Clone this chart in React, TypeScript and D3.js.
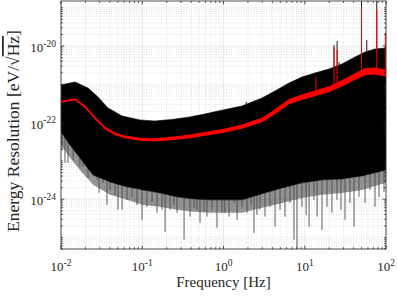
import React from "react";
import * as d3 from "d3";

const W = 397;
const H = 297;
const PL = 61, PR = 386, PT = 1, PB = 249;

const xDomain = [0.01, 100];
const yDomain = [5e-26, 1.5e-19];
const xTickValues = [0.01, 0.1, 1, 10, 100];
const xTickExps = ["-2", "-1", "0", "1", "2"];
const yTickValues = [1e-24, 1e-22, 1e-20];
const yTickExps = ["-24", "-22", "-20"];

// red (averaged) spectrum
const redFreq = [0.01, 0.01186, 0.01486, 0.01972, 0.0262, 0.0348, 0.0462, 0.0614, 0.0938, 0.1435, 0.232, 0.387, 0.592, 0.986, 1.69, 2.98, 4.31, 6.4, 9.25, 13.37, 19.9, 28.7, 41.5, 55.2, 73.3, 100];
const redValue = [3.46e-22, 3.74e-22, 4.06e-22, 2.61e-22, 1.32e-22, 7.26e-23, 5.06e-23, 4.23e-23, 3.68e-23, 3.53e-23, 3.86e-23, 4.36e-23, 5.06e-23, 6.05e-23, 7.85e-23, 1.17e-22, 1.93e-22, 3.52e-22, 4.59e-22, 5.83e-22, 7.41e-22, 1.06e-21, 1.58e-21, 2.13e-21, 2.23e-21, 1.94e-21];
const redSpread = [0.022, 0.022, 0.025, 0.028, 0.03, 0.033, 0.036, 0.038, 0.04, 0.043, 0.046, 0.048, 0.05, 0.053, 0.056, 0.06, 0.064, 0.068, 0.072, 0.076, 0.08, 0.084, 0.088, 0.09, 0.092, 0.093];

// black raw spectrum: upper envelope, lower edge of the dense band, and fringe of dips
const upperFreq = [0.01, 0.01486, 0.0215, 0.0285, 0.0379, 0.0563, 0.0938, 0.1435, 0.232, 0.387, 0.592, 0.986, 1.69, 2.98, 4.31, 6.4, 9.25, 13.37, 19.9, 28.7, 41.5, 55.2, 73.3, 100];
const upperValue = [9.6e-22, 1.15e-21, 8.0e-22, 4.67e-22, 2.41e-22, 1.49e-22, 1.17e-22, 1.1e-22, 1.21e-22, 1.41e-22, 1.68e-22, 2.14e-22, 2.72e-22, 4.4e-22, 6.7e-22, 1.08e-21, 1.55e-21, 1.98e-21, 2.51e-21, 3.39e-21, 5.16e-21, 6.97e-21, 8.35e-21, 8.87e-21];
const lowerFreq = [0.01, 0.0129, 0.0171, 0.0248, 0.0401, 0.0649, 0.102, 0.165, 0.268, 0.422, 0.683, 0.986, 1.69, 2.98, 5.25, 9.25, 16.3, 28.7, 50.7, 100];
const lowerValue = [5.7e-23, 2.6e-23, 1.2e-23, 4.3e-24, 2.83e-24, 2.1e-24, 1.75e-24, 1.46e-24, 1.15e-24, 1.02e-24, 9.6e-25, 9.6e-25, 9.6e-25, 1.38e-24, 1.97e-24, 2.67e-24, 3.2e-24, 3.39e-24, 4.06e-24, 5.8e-24];
const fringeValue = [2.61e-23, 1.2e-23, 5.82e-24, 2.37e-24, 1.3e-24, 9.6e-25, 7.1e-25, 6.3e-25, 5.3e-25, 4.67e-25, 4.4e-25, 4.4e-25, 4.4e-25, 5.94e-25, 8.0e-25, 1.08e-24, 1.3e-24, 1.46e-24, 1.75e-24, 2.67e-24];

// deep downward dips of the raw spectrum
const dipFreq = [0.0103, 0.0112, 0.0122, 0.0141, 0.0171, 0.0187, 0.0215, 0.0241, 0.0278, 0.0294, 0.0329, 0.0368, 0.0401, 0.0462, 0.0503, 0.0564, 0.0649, 0.0748, 0.0861, 0.0993, 0.114, 0.132, 0.152, 0.175, 0.191, 0.22, 0.246, 0.268, 0.327, 0.387, 0.434, 0.472, 0.514, 0.576, 0.626, 0.722, 0.832, 0.959, 1.04, 1.17, 1.35, 1.47, 1.69, 1.95, 2.18, 2.37, 2.58, 2.81, 3.24, 3.73, 4.31, 4.96, 5.71, 6.58, 7.38, 8.03, 9.25, 10.4, 11.3, 13.0, 14.2, 16.3, 18.8, 21.6, 24.9, 27.9, 31.3, 36.0, 40.4, 46.5, 55.2, 63.5, 73.3, 82.1, 94.5];
const dipValue = [1.94e-23, 8.9e-24, 8.9e-24, 1.06e-23, 7.0e-24, 7.0e-24, 3.6e-24, 4.9e-24, 3.2e-24, 1.46e-24, 2.67e-24, 7.1e-25, 1.75e-24, 1.3e-24, 5.3e-25, 5.3e-25, 9.6e-25, 1.15e-24, 7.1e-25, 2.9e-25, 6.3e-25, 8.5e-25, 4.4e-25, 5.3e-25, 1.4e-25, 5.3e-25, 7.1e-25, 4.4e-25, 8.7e-26, 3.5e-25, 5.9e-25, 5.3e-25, 2.4e-25, 4.7e-25, 3.5e-25, 5.3e-25, 1.79e-25, 4.4e-25, 4.4e-25, 3.5e-25, 8.0e-25, 2.9e-25, 6.3e-25, 4.4e-25, 7.1e-25, 1.32e-25, 3.9e-25, 5.3e-25, 3.5e-25, 6.3e-25, 1.9e-25, 5.3e-25, 3.5e-25, 8.0e-25, 8.7e-26, 4.0e-26, 6.3e-25, 3.9e-25, 1.9e-25, 9.6e-25, 3.5e-25, 1.58e-25, 6.3e-25, 4.4e-25, 9.6e-25, 5.3e-25, 2.9e-25, 8.0e-25, 1.9e-25, 1.15e-24, 8.0e-25, 1.75e-24, 6.3e-25, 1.15e-24, 1.55e-24];

// narrow spectral lines (peaks)
const blackLineFreq = [1.9, 22.9, 25.0, 26.5, 50.0, 58.0, 77.0];
const blackLinePeak = [3.5e-22, 1.06e-20, 1.35e-20, 3.8e-21, 1.5e-19, 1.43e-20, 1.5e-19];
const redLineFreq = [13.7, 22.9, 25.0, 50.0, 77.0, 98.0];
const redLinePeak = [1.6e-21, 9.4e-21, 7.9e-21, 9.8e-20, 8.7e-20, 2.2e-20];

const FONT = "Liberation Serif";
const AX = "#262626";

function logInterp(fs: number[], vs: number[]) {
  const s = d3.scaleLinear().domain(fs.map(Math.log10)).range(vs.map(Math.log10)).clamp(true);
  return (f: number) => Math.pow(10, s(Math.log10(f)));
}

export default function App() {
  const x = d3.scaleLog().domain(xDomain).range([PL, PR]);
  const y = d3.scaleLog().domain(yDomain).range([PB, PT]);

  const upperAt = logInterp(upperFreq, upperValue);
  const lowerAt = logInterp(lowerFreq, lowerValue);
  const redAt = logInterp(redFreq, redValue);

  const bandFreq = Array.from(new Set([...upperFreq, ...lowerFreq])).sort((a, b) => a - b);
  const blackArea = d3
    .area<number>()
    .x((f) => x(f))
    .y0((f) => y(lowerAt(f)))
    .y1((f) => y(upperAt(f)))(bandFreq);

  const lowIdx = lowerFreq.map((_, i) => i);
  const fringeArea = d3
    .area<number>()
    .x((i) => x(lowerFreq[i]))
    .y0((i) => y(fringeValue[i]))
    .y1((i) => y(lowerValue[i]))(lowIdx);

  const redIdx = redFreq.map((_, i) => i);
  const redArea = d3
    .area<number>()
    .x((i) => x(redFreq[i]))
    .y0((i) => y(redValue[i] / Math.pow(10, redSpread[i])))
    .y1((i) => y(redValue[i] * Math.pow(10, redSpread[i])))(redIdx);
  const redLine = d3
    .line<number>()
    .x((i) => x(redFreq[i]))
    .y((i) => y(redValue[i]))(redIdx);

  const xMinor: number[] = [];
  for (let e = -2; e < 2; e++) for (let k = 2; k <= 9; k++) xMinor.push(k * Math.pow(10, e));
  const yMinor: number[] = [];
  for (let e = -26; e <= -19; e++)
    for (let k = 1; k <= 9; k++) {
      const v = k * Math.pow(10, e);
      if (v < yDomain[0] * 0.999 || v > yDomain[1] * 1.001) continue;
      if (k === 1 && (e === -24 || e === -22 || e === -20)) continue;
      yMinor.push(v);
    }

  const tl = 3.3;
  const tm = 1.8;

  return (
    <svg width={W} height={H} style={{ position: "absolute", left: 0, top: 0, background: "#fff", fontFamily: FONT }}>
      <defs>
        <clipPath id="plotclip">
          <rect x={PL} y={PT} width={PR - PL} height={PB - PT} />
        </clipPath>
        <linearGradient id="fringeGrad" x1="0" y1="0" x2="0" y2="1">
          <stop offset="0" stopColor="#000" stopOpacity={0.55} />
          <stop offset="1" stopColor="#000" stopOpacity={0.3} />
        </linearGradient>
      </defs>
      <rect x={0} y={0} width={W} height={H} fill="#fff" />
      <g>
        {xMinor.map((v, i) => (
          <line key={"gxm" + i} x1={x(v)} x2={x(v)} y1={PT} y2={PB} stroke="#cfcfcf" strokeWidth={0.6} strokeDasharray="1 1.5" />
        ))}
        {yMinor.map((v, i) => (
          <line key={"gym" + i} x1={PL} x2={PR} y1={y(v)} y2={y(v)} stroke="#cfcfcf" strokeWidth={0.6} strokeDasharray="1 1.5" />
        ))}
        {xTickValues.map((v, i) => (
          <line key={"gx" + i} x1={x(v)} x2={x(v)} y1={PT} y2={PB} stroke="#dcdcdc" strokeWidth={0.6} />
        ))}
        {yTickValues.map((v, i) => (
          <line key={"gy" + i} x1={PL} x2={PR} y1={y(v)} y2={y(v)} stroke="#dcdcdc" strokeWidth={0.6} />
        ))}
      </g>
      <g clipPath="url(#plotclip)">
        <path d={fringeArea ?? ""} fill="#000" opacity={0.42} />
        {dipFreq.map((f, i) => (
          <line key={"dip" + i} x1={x(f)} x2={x(f)} y1={y(lowerAt(f))} y2={y(dipValue[i])} stroke="#4a4a4a" strokeWidth={0.9} />
        ))}
        <path d={blackArea ?? ""} fill="#000" stroke="#000" strokeWidth={0.6} />
        {blackLineFreq.map((f, i) => (
          <line key={"bl" + i} x1={x(f)} x2={x(f)} y1={y(upperAt(f))} y2={y(blackLinePeak[i])} stroke="#000" strokeWidth={0.9} />
        ))}
        <path d={redArea ?? ""} fill="#ff0000" />
        <path d={redLine ?? ""} fill="none" stroke="#ff0000" strokeWidth={1.4} />
        {redLineFreq.map((f, i) => (
          <line key={"rl" + i} x1={x(f)} x2={x(f)} y1={y(redAt(f))} y2={y(redLinePeak[i])} stroke="#ff0000" strokeWidth={1} />
        ))}
      </g>
      <g stroke={AX} strokeWidth={0.8} fill="none">
        <rect x={PL} y={PT} width={PR - PL} height={PB - PT} />
        {xTickValues.map((v, i) => (
          <g key={"xt" + i}>
            <line x1={x(v)} x2={x(v)} y1={PB} y2={PB - tl} />
            <line x1={x(v)} x2={x(v)} y1={PT} y2={PT + tl} />
          </g>
        ))}
        {xMinor.map((v, i) => (
          <g key={"xtm" + i}>
            <line x1={x(v)} x2={x(v)} y1={PB} y2={PB - tm} />
            <line x1={x(v)} x2={x(v)} y1={PT} y2={PT + tm} />
          </g>
        ))}
        {yTickValues.map((v, i) => (
          <g key={"yt" + i}>
            <line x1={PL} x2={PL + tl} y1={y(v)} y2={y(v)} />
            <line x1={PR} x2={PR - tl} y1={y(v)} y2={y(v)} />
          </g>
        ))}
        {yMinor.map((v, i) => (
          <g key={"ytm" + i}>
            <line x1={PL} x2={PL + tm} y1={y(v)} y2={y(v)} />
            <line x1={PR} x2={PR - tm} y1={y(v)} y2={y(v)} />
          </g>
        ))}
      </g>
      <g fill={AX} fontSize={13} fontFamily={FONT}>
        {xTickValues.map((v, i) => (
          <text key={"xl" + i} x={x(v)} y={271} textAnchor="middle">
            10<tspan dy={-5.5} fontSize={9.5}>{xTickExps[i]}</tspan>
          </text>
        ))}
        {yTickValues.map((v, i) => (
          <text key={"yl" + i} x={56} y={y(v) + 6} textAnchor="end">
            10<tspan dy={-5.5} fontSize={9.5}>{yTickExps[i]}</tspan>
          </text>
        ))}
      </g>
      <text x={(PL + PR) / 2} y={287} textAnchor="middle" fontSize={15} fill={AX} fontFamily={FONT}>
        Frequency [Hz]
      </text>
      <text transform={`translate(19,${(PT + PB) / 2 + 6}) rotate(-90)`} textAnchor="middle" fontSize={17.5} fill={AX} fontFamily={FONT}>
        Energy Resolution [eV/√<tspan style={{ textDecoration: "overline" }}>Hz</tspan>]
      </text>
    </svg>
  );
}
